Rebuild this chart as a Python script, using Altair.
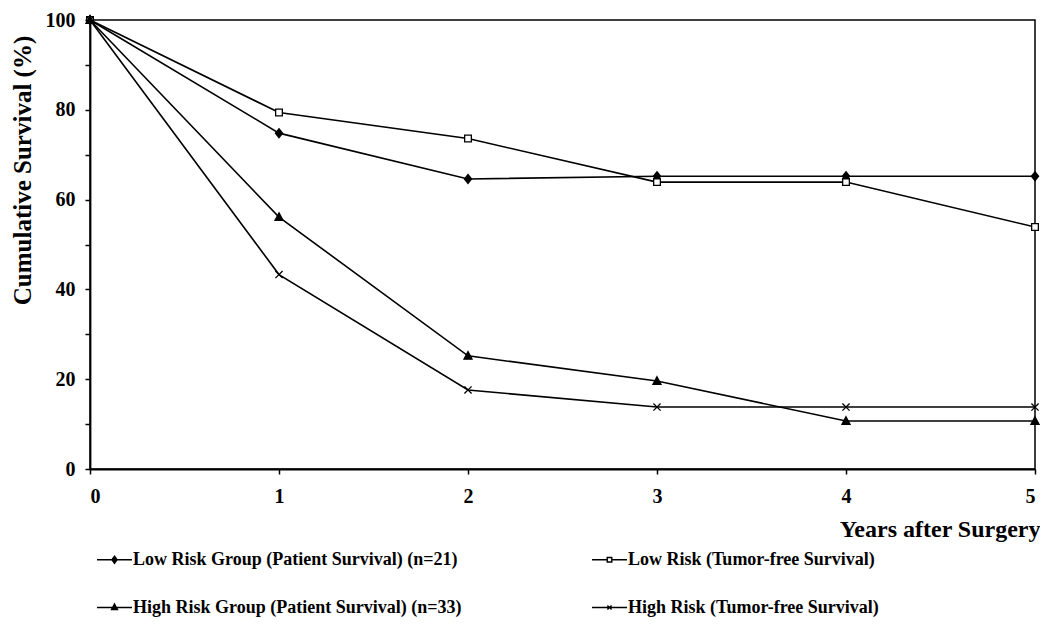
import altair as alt
import pandas as pd

years = [0, 1, 2, 3, 4, 5]
series_names = [
    "Low Risk Group (Patient Survival) (n=21)",
    "Low Risk (Tumor-free Survival)",
    "High Risk Group (Patient Survival) (n=33)",
    "High Risk (Tumor-free Survival)",
]
low_patient = [100, 74.8, 64.6, 65.2, 65.2, 65.2]
low_tumorfree = [100, 79.4, 73.6, 63.9, 63.9, 53.9]
high_patient = [100, 56.1, 25.2, 19.6, 10.7, 10.7]
high_tumorfree = [100, 43.3, 17.6, 13.8, 13.8, 13.8]

rows = []
for name, vals in zip(series_names, [low_patient, low_tumorfree, high_patient, high_tumorfree]):
    for yr, v in zip(years, vals):
        rows.append({"year": yr, "survival": v, "series": name})
df = pd.DataFrame(rows)

FONT = "Liberation Serif"

marker_paths = [
    "M0,-1L0.8,0L0,1L-0.8,0Z",
    "M-0.75,-0.75H0.75V0.75H-0.75Z",
    "M0,-0.95L0.9,0.75H-0.9Z",
    "M-0.8,-0.8L0.8,0.8M-0.8,0.8L0.8,-0.8",
]
legend_paths = [
    "M-1,0H1M0,-0.2L0.15,0L0,0.2L-0.15,0ZM0,-0.1L0.07,0L0,0.1L-0.07,0ZM0,-0.2V0.2",
    "M-1,0H-0.13M0.13,0H1M-0.13,-0.13H0.13V0.13H-0.13Z",
    "M-1,0H1M0,-0.2L0.17,0.12H-0.17ZM0,-0.08L0.07,0.06H-0.07ZM0,-0.2V0.12",
    "M-1,0H1M-0.12,-0.12L0.12,0.12M-0.12,0.12L0.12,-0.12",
]
fills = ["black", "white", "black", "black"]

x_enc = alt.X(
    "year:Q",
    scale=alt.Scale(domain=[0, 5], nice=False, zero=False),
    axis=alt.Axis(
        values=[0, 0.5, 1, 1.5, 2, 2.5, 3, 3.5, 4, 4.5, 5],
        format="d",
        labelExpr="datum.value % 1 == 0 ? datum.label : ''",
        title="Years after Surgery",
        titleAnchor="end",
        titleAlign="right",
        titleX=950,
        titleFontSize=24,
        titlePadding=11,
        grid=False,
    ),
)
y_enc = alt.Y(
    "survival:Q",
    scale=alt.Scale(domain=[0, 100], nice=False),
    axis=alt.Axis(
        values=[0, 10, 20, 30, 40, 50, 60, 70, 80, 90, 100],
        labelExpr="datum.value % 20 == 0 ? datum.label : ''",
        title="Cumulative Survival (%)",
        titleFontSize=25,
        titleAngle=270,
        titleX=-60,
        titleY=150,
        titleAlign="center",
        titleBaseline="alphabetic",
        grid=False,
    ),
)

base = alt.Chart(df).encode(x=x_enc, y=y_enc)

lines = base.mark_line(color="black", strokeWidth=1.6).encode(
    detail=alt.Detail("series:N")
)

points = base.mark_point(filled=True, stroke="black", strokeWidth=1.3, opacity=1, size=80).encode(
    shape=alt.Shape(
        "series:N",
        scale=alt.Scale(domain=series_names, range=marker_paths),
        legend=None,
    ),
    fill=alt.Fill(
        "series:N",
        scale=alt.Scale(domain=series_names, range=fills),
        legend=None,
    ),
)

legend_layer = base.mark_point(filled=False, stroke="black", strokeWidth=1.4, opacity=0).encode(
    shape=alt.Shape(
        "series:N",
        scale=alt.Scale(domain=series_names, range=legend_paths),
        legend=alt.Legend(
            title=None,
            orient="none",
            legendX=6,
            legendY=521,
            columns=2,
            direction="horizontal",
            columnPadding=127,
            rowPadding=20,
            symbolSize=1225,
            symbolStrokeWidth=1.4,
            symbolOpacity=1,
            symbolStrokeColor="black",
            symbolFillColor="white",
            labelFont=FONT,
            labelFontWeight="bold",
            labelFontSize=18,
            labelColor="black",
            labelOffset=0,
            labelLimit=500,
        ),
    ),
)

chart = (
    alt.layer(lines, points, legend_layer)
    .resolve_scale(shape="independent")
    .properties(
        width=945,
        height=449,
        autosize=alt.AutoSizeParams(type="none"),
        padding={"left": 82, "top": 12, "right": 5, "bottom": 150},
    )
    .configure_view(stroke="black", strokeWidth=1.5)
    .configure_axis(
        domainColor="black",
        domainWidth=1.8,
        tickColor="black",
        tickWidth=1.5,
        tickSize=5,
        labelFont=FONT,
        labelFontWeight="bold",
        labelFontSize=20,
        labelColor="black",
        titleFont=FONT,
        titleFontWeight="bold",
        titleColor="black",
    )
    .configure_axisX(labelPadding=12, labelAngle=0)
    .configure_axisY(labelPadding=10)
)

chart.save("out.html", embed_options={"renderer": "svg", "actions": False})
